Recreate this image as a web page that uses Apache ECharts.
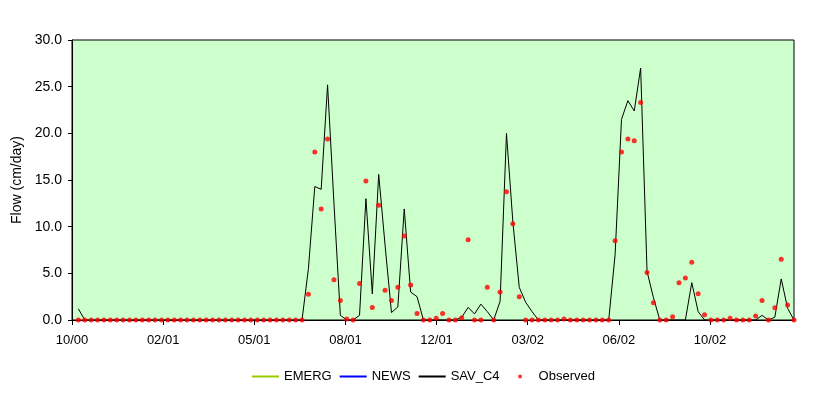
<!DOCTYPE html>
<html>
<head>
<meta charset="utf-8">
<script src="https://cdn.jsdelivr.net/npm/echarts@6/dist/echarts.min.js"></script>
<style>
  html, body { margin: 0; padding: 0; background: #fff; }
  #main { width: 830px; height: 397px; }
</style>
</head>
<body>
<div id="main"></div>
<script>
// weekly samples, index 0 is the axis origin (no data)
const weeks = Array.from({ length: 114 }, (_, i) => String(i));
const tickLabels = ["10/00", "02/01", "05/01", "08/01", "12/01", "03/02", "06/02", "10/02"];

const emerg = [];
const news = [];
const savC4 = [
  null, 1.2, 0, 0, 0, 0, 0, 0, 0, 0,
  0, 0, 0, 0, 0, 0, 0, 0, 0, 0,
  0, 0, 0, 0, 0, 0, 0, 0, 0, 0,
  0, 0, 0, 0, 0, 0, 0, 5.5, 14.3, 14.0,
  25.2, 12.5, 0.5, 0, 0, 0.5, 13.0, 2.8, 15.6, 8.0,
  0.8, 1.4, 11.9, 3.0, 2.5, 0, 0, 0, 0, 0,
  0, 0.3, 1.35, 0.65, 1.7, 0.9, 0, 2.0, 20.0, 10.5,
  3.5, 1.9, 0.9, 0, 0, 0, 0, 0, 0, 0,
  0, 0, 0, 0, 0, 7.0, 21.5, 23.5, 22.4, 27.0,
  5.2, 2.4, 0, 0, 0, 0, 0, 4.0, 0.9, 0,
  0, 0, 0, 0, 0, 0, 0, 0, 0.5, 0,
  0.3, 4.4, 1.25, 0,
];
const observed = [
  null, 0, 0, 0, 0, 0, 0, 0, 0, 0,
  0, 0, 0, 0, 0, 0, 0, 0, 0, 0,
  0, 0, 0, 0, 0, 0, 0, 0, 0, 0,
  0, 0, 0, 0, 0, 0, 0, 2.75, 18.0, 11.9,
  19.4, 4.3, 2.1, 0.1, 0, 3.9, 14.9, 1.35, 12.3, 3.2,
  2.1, 3.5, 9.0, 3.75, 0.7, 0, 0, 0.2, 0.7, 0,
  0, 0.25, 8.6, 0, 0, 3.5, 0, 3.0, 13.75, 10.3,
  2.5, 0, 0, 0, 0, 0, 0, 0.1, 0, 0,
  0, 0, 0, 0, 0, 8.5, 18.0, 19.4, 19.2, 23.3,
  5.1, 1.85, 0, 0, 0.36, 4.0, 4.5, 6.2, 2.8, 0.57,
  0, 0, 0, 0.2, 0, 0, 0, 0.43, 2.1, 0,
  1.3, 6.5, 1.6, 0,
];

const font = "'Liberation Sans', Arial, sans-serif";
const lastIndex = weeks.length - 1;
const tickStep = 14.265; // weeks between date labels
const tickValues = tickLabels.map((_, k) => k * tickStep);

// small red dot centred in a 27x14 legend box
const dotIcon = "path://M0,0L0.01,0M27,14L26.99,14M11.5,7A2,2 0 1,1 15.5,7A2,2 0 1,1 11.5,7Z";

const chart = echarts.init(document.getElementById("main"));

chart.setOption({
  animation: false,
  color: ["#99CC00", "#0000FF", "#000000", "#FF0000"],
  grid: {
    left: 72,
    right: 36,
    top: 40,
    bottom: 77,
    show: true,
    backgroundColor: "#CCFFCC",
    borderColor: "#000",
    borderWidth: 1,
  },
  legend: {
    left: 246,
    top: 364.5,
    itemWidth: 27,
    itemHeight: 14,
    itemGap: 7,
    textStyle: { fontFamily: font, fontSize: 13, color: "#000" },
    data: [
      // hide the marker that line legends draw in the middle of the line
      { name: "EMERG", itemStyle: { opacity: 0 } },
      { name: "NEWS", itemStyle: { opacity: 0 } },
      { name: "SAV_C4", itemStyle: { opacity: 0 } },
      { name: "Observed", icon: dotIcon },
    ],
  },
  xAxis: [
    {
      type: "category",
      data: weeks,
      boundaryGap: false,
      axisLine: { lineStyle: { color: "#000", width: 1 } },
      axisTick: { show: false },
      axisLabel: { show: false },
    },
    {
      type: "value",
      min: 0,
      max: lastIndex,
      position: "bottom",
      axisLine: { show: false },
      splitLine: { show: false },
      axisTick: {
        show: true,
        length: 5,
        customValues: tickValues,
        lineStyle: { color: "#000" },
      },
      axisLabel: {
        customValues: tickValues,
        margin: 14,
        fontFamily: font,
        fontSize: 13,
        color: "#000",
        formatter: (v) => tickLabels[Math.round(v / tickStep)] || "",
      },
    },
  ],
  yAxis: {
    type: "value",
    min: 0,
    max: 30,
    interval: 5,
    name: "Flow (cm/day)",
    nameLocation: "middle",
    nameGap: 41,
    nameTextStyle: { fontFamily: font, fontSize: 14, color: "#000" },
    axisLine: { show: true, lineStyle: { color: "#000" } },
    axisTick: { show: true, length: 4, lineStyle: { color: "#000" } },
    splitLine: { show: false },
    axisLabel: {
      margin: 10,
      fontFamily: font,
      fontSize: 14,
      color: "#000",
      formatter: (v) => v.toFixed(1),
    },
  },
  series: [
    {
      name: "EMERG",
      type: "line",
      data: emerg,
      symbol: "none",
      lineStyle: { width: 1, color: "#99CC00" },
    },
    {
      name: "NEWS",
      type: "line",
      data: news,
      symbol: "none",
      lineStyle: { width: 1, color: "#0000FF" },
    },
    {
      name: "SAV_C4",
      type: "line",
      data: savC4,
      symbol: "none",
      lineStyle: { width: 1, color: "#000" },
    },
    {
      name: "Observed",
      type: "scatter",
      data: observed,
      symbol: "circle",
      symbolSize: 5,
      itemStyle: { color: "#FF0000" },
      z: 3,
    },
  ],
});
</script>
</body>
</html>
